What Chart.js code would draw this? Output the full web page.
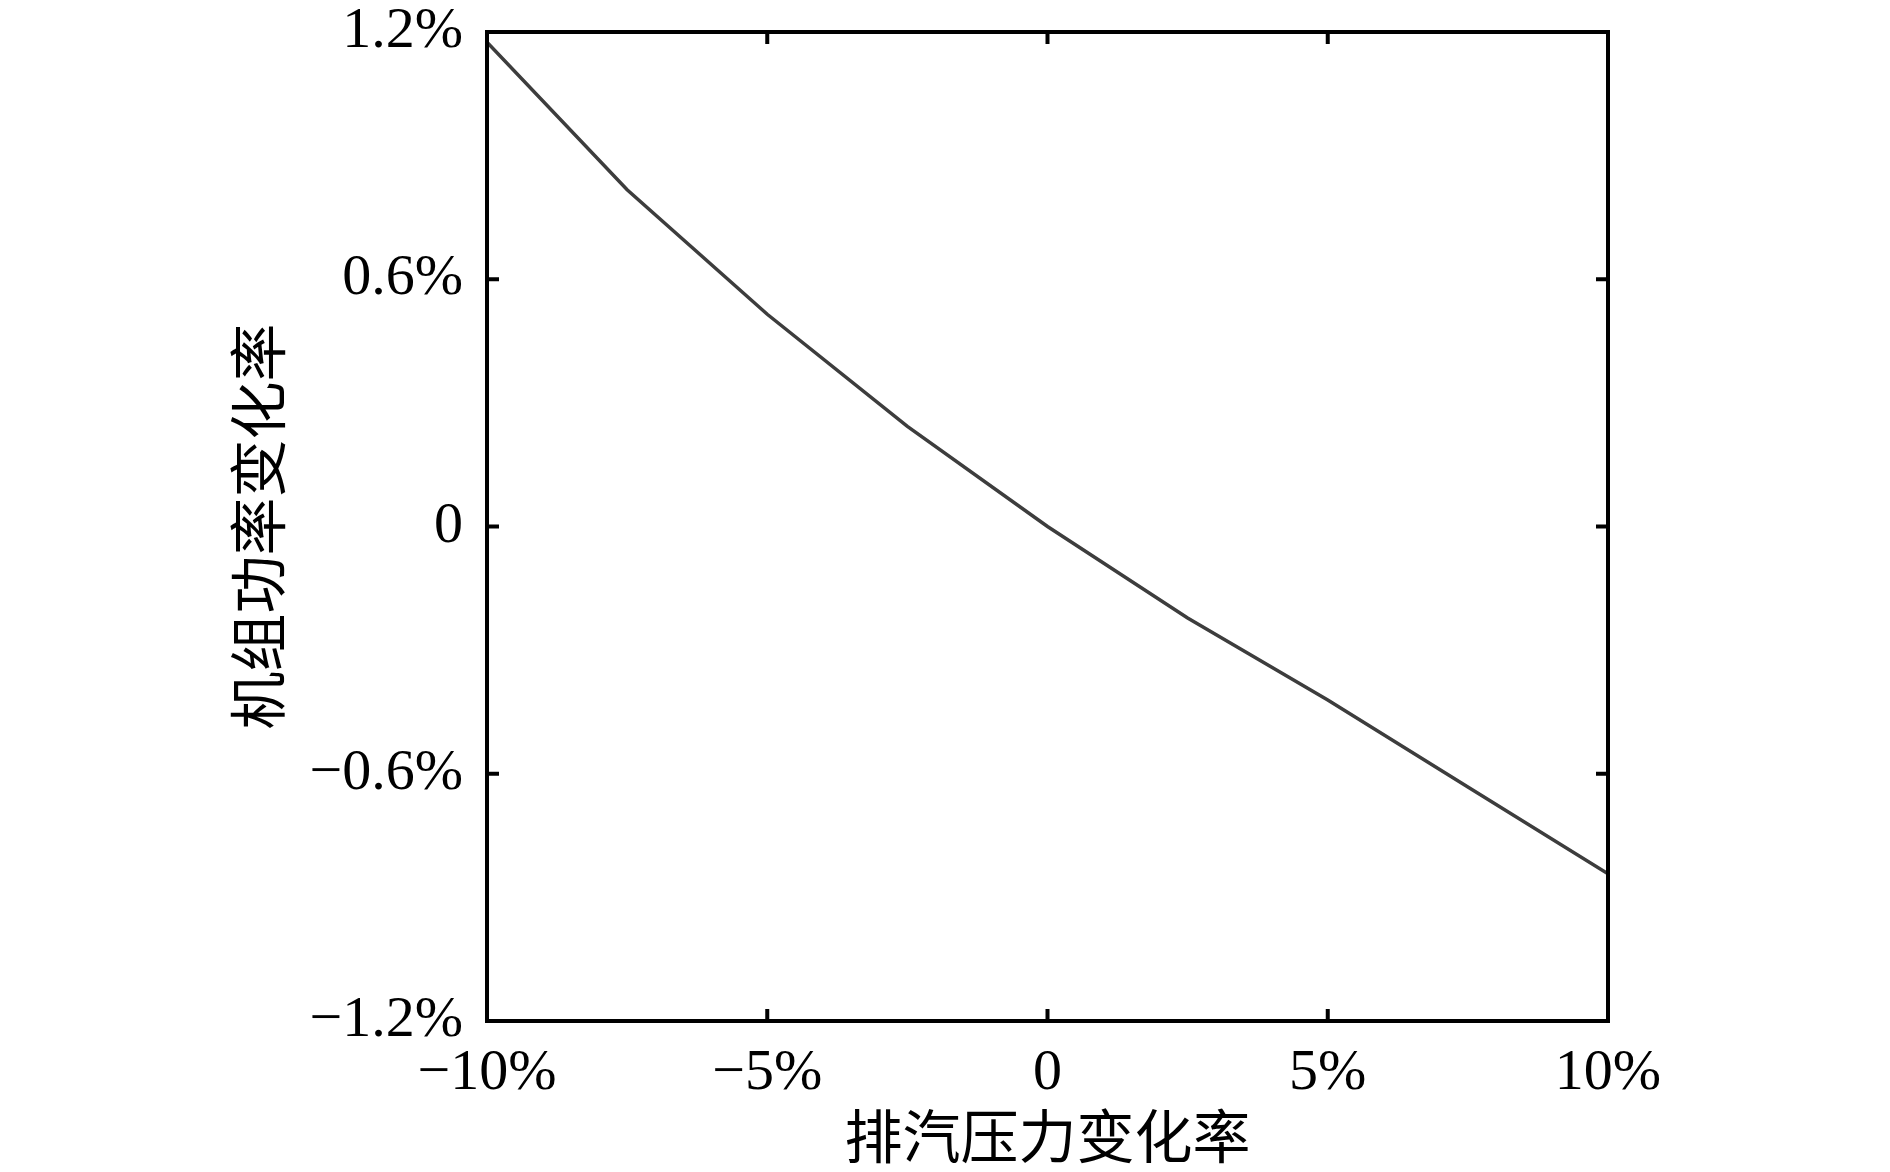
<!DOCTYPE html>
<html>
<head>
<meta charset="utf-8">
<script src="https://cdn.jsdelivr.net/npm/chart.js@4.4.1/dist/chart.umd.min.js"></script>
<style>
  html, body { margin: 0; padding: 0; background: #fff; }
  #wrap { width: 1890px; height: 1172px; }
</style>
</head>
<body>
<div id="wrap"><canvas id="myChart"></canvas></div>
<script>
// exhaust pressure change (%) vs unit power change (%)
const pressureChange = [-10, -7.5, -5, -2.5, 0, 2.5, 5, 7.5, 10];
const powerChange = [1.175, 0.817, 0.515, 0.243, 0, -0.222, -0.421, -0.632, -0.843];
const xTicks = [-10, -5, 0, 5, 10];
const yTicks = [-1.2, -0.6, 0, 0.6, 1.2];
const xTitle = '排汽压力变化率';
const yTitle = '机组功率变化率';

const fontFamily = '"Liberation Serif", "Times New Roman", "Noto Sans CJK SC", serif';

function pct(v, digits) {
    if (Math.abs(v) < 1e-9) return '0';
    return (v < 0 ? '\u2212' : '') + Math.abs(v).toFixed(digits) + '%';
}

// frame + inward ticks on all four sides
const framePlugin = {
    id: 'frame',
    afterDraw(chart) {
        const { ctx, chartArea: a, scales } = chart;
        const len = 12;
        ctx.save();
        ctx.strokeStyle = '#000';
        ctx.lineWidth = 4;
        ctx.strokeRect(a.left, a.top, a.right - a.left, a.bottom - a.top);
        ctx.beginPath();
        xTicks.forEach(v => {
            const px = scales.x.getPixelForValue(v);
            if (px <= a.left + 2 || px >= a.right - 2) return;
            ctx.moveTo(px, a.bottom); ctx.lineTo(px, a.bottom - len);
            ctx.moveTo(px, a.top); ctx.lineTo(px, a.top + len);
        });
        yTicks.forEach(v => {
            const py = scales.y.getPixelForValue(v);
            if (py <= a.top + 2 || py >= a.bottom - 2) return;
            ctx.moveTo(a.left, py); ctx.lineTo(a.left + len, py);
            ctx.moveTo(a.right, py); ctx.lineTo(a.right - len, py);
        });
        ctx.stroke();
        ctx.restore();
    }
};

const ctx = document.getElementById('myChart');

new Chart(ctx, {
    type: 'line',
    data: {
        datasets: [{
            data: pressureChange.map((x, i) => ({ x: x, y: powerChange[i] })),
            borderColor: '#3d3d3d',
            borderWidth: 3.5,
            pointRadius: 0,
            tension: 0,
            fill: false
        }]
    },
    options: {
        responsive: true,
        maintainAspectRatio: false,
        animation: false,
        layout: { padding: { left: 0, right: 282, top: 32, bottom: 0 } },
        plugins: { legend: { display: false }, tooltip: { enabled: false } },
        scales: {
            x: {
                type: 'linear',
                min: -10, max: 10,
                afterFit(s) { s.height = 151; s.paddingLeft = 0; s.paddingRight = 0; },
                afterBuildTicks(s) { s.ticks = xTicks.map(v => ({ value: v })); },
                grid: { display: false },
                border: { display: false },
                ticks: {
                    color: '#000',
                    padding: 10,
                    maxRotation: 0,
                    font: { family: fontFamily, size: 58 },
                    callback: v => pct(v, 0)
                },
                title: {
                    display: true,
                    text: xTitle,
                    color: '#000',
                    font: { family: fontFamily, size: 58, lineHeight: 1 },
                    padding: { top: 0, bottom: 0 }
                }
            },
            y: {
                type: 'linear',
                min: -1.2, max: 1.2,
                afterFit(s) { s.width = 487; s.paddingTop = 0; s.paddingBottom = 0; },
                afterBuildTicks(s) { s.ticks = yTicks.map(v => ({ value: v })); },
                grid: { display: false },
                border: { display: false },
                ticks: {
                    color: '#000',
                    padding: 16,
                    font: { family: fontFamily, size: 58 },
                    callback: v => pct(v, 1)
                },
                title: {
                    display: true,
                    text: yTitle,
                    color: '#000',
                    font: { family: fontFamily, size: 58, lineHeight: 1 },
                    padding: { top: 236, bottom: 0 }
                }
            }
        }
    },
    plugins: [framePlugin]
});
</script>
</body>
</html>
